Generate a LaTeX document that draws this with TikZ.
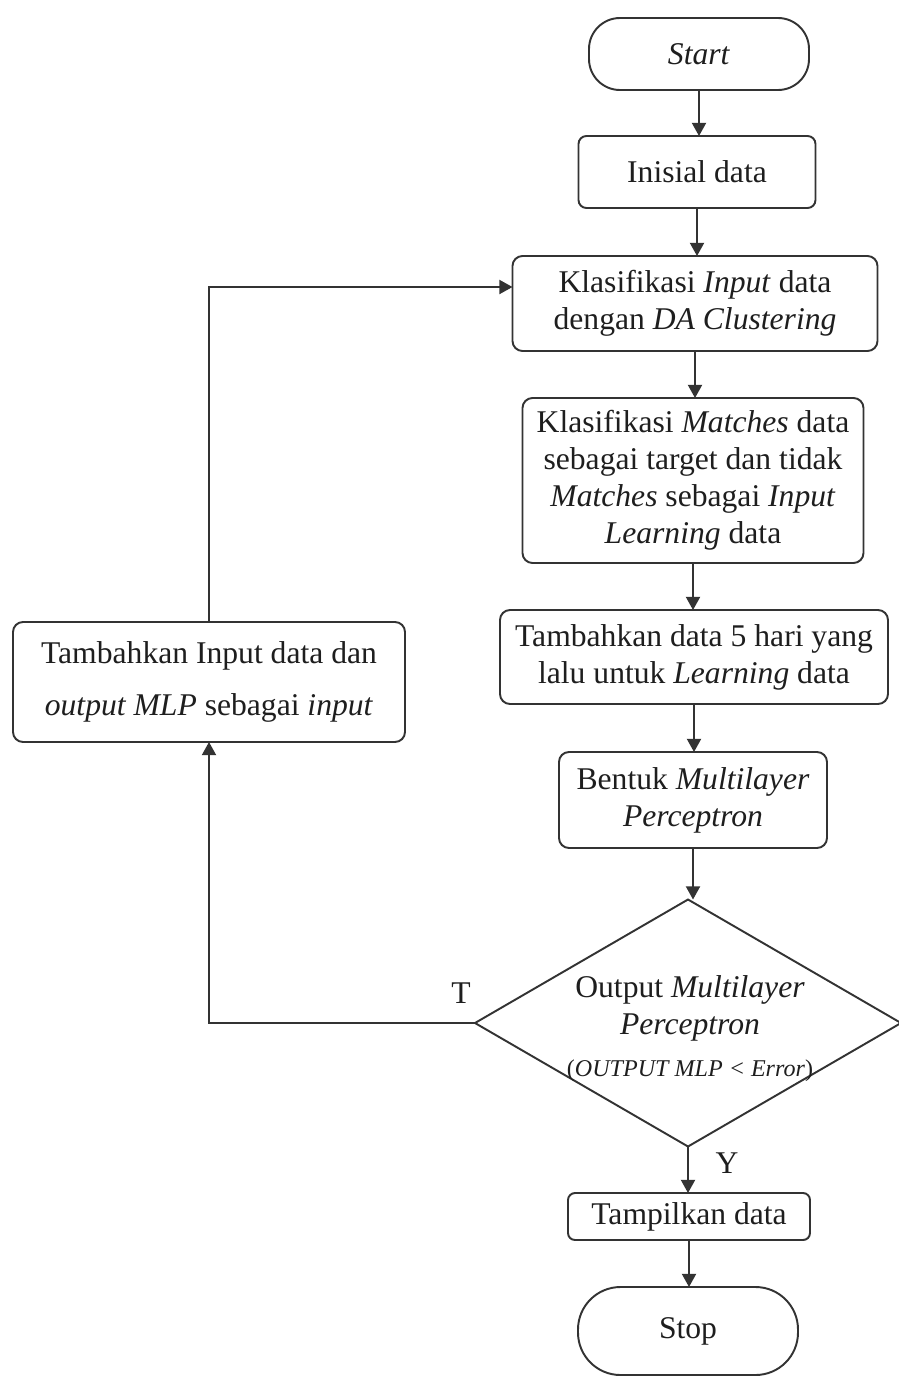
\documentclass[tikz,border=0pt]{standalone}
\usepackage{fontspec}
\setmainfont{Liberation Serif}
\usetikzlibrary{shapes.geometric,arrows.meta,calc}
\definecolor{linec}{HTML}{333333}
\definecolor{inkc}{HTML}{1e1e1e}
\tikzset{
  x=0.02cm, y=-0.02cm,
  sz/.style 2 args={minimum width=#1*0.02cm, minimum height=#2*0.02cm},
  base/.style={draw=linec, line width=1.1pt, inner sep=0pt, outer sep=0pt,
    align=center, text=inkc, font=\fontsize{18}{21}\selectfont},
  procbox/.style={base, rectangle, rounded corners=0.2cm},
  termbox/.style={base, rectangle, rounded corners=#1},
  decbox/.style={draw=linec, line width=1.1pt, diamond, inner sep=0pt, outer sep=0pt},
  lbl/.style={text=inkc, font=\fontsize{18}{21}\selectfont, inner sep=0pt},
  flow/.style={draw=linec, line width=1.1pt, -{Triangle[length=7.5pt,width=8pt]}},
}
\begin{document}
\begin{tikzpicture}
\useasboundingbox (0,0) rectangle (899,1376);

% main column
\node[termbox=0.62cm, sz={220}{72}] (start) at (699,54) {\textit{Start}};
\node[procbox, rounded corners=0.16cm, sz={237}{72}] (init) at (697,172) {Inisial data};
\node[procbox, sz={365}{95}] (klas) at (695,303.5)
  {Klasifikasi \textit{Input} data\\ dengan \textit{DA Clustering}};
\node[procbox, sz={341}{165}] (match) at (693,480.5)
  {Klasifikasi \textit{Matches} data\\ sebagai target dan tidak\\ \textit{Matches} sebagai \textit{Input}\\ \textit{Learning} data};
\node[procbox, sz={388}{94}] (addd) at (694,657)
  {Tambahkan data 5 hari yang\\ lalu untuk \textit{Learning} data};
\node[procbox, sz={268}{96}] (mlp) at (693,800)
  {Bentuk \textit{Multilayer}\\ \textit{Perceptron}};
\node[decbox, sz={426}{247}] (dec) at (688,1023) {};
\node[lbl, align=center] (dectxt) at (690,1029)
  {Output \textit{Multilayer}\\ \textit{Perceptron}\\[3pt]
   {\fontsize{13.7}{16}\selectfont (\textit{OUTPUT MLP < Error})}};
\node[procbox, rounded corners=0.14cm, sz={242}{47}] (show) at (689,1216.5) {Tampilkan data};
\node[termbox=0.85cm, sz={220}{88}] (stop) at (688,1331) {Stop};

% feedback box
\node[procbox, sz={392}{120}] (side) at (209,682)
  {Tambahkan Input data dan\\[9pt] \textit{output MLP} sebagai \textit{input}};

% branch labels
\node[lbl] (tlab) at (461,993) {T};
\node[lbl] (ylab) at (727,1163) {Y};

% connectors
\draw[flow] (start.south) -- (start.south |- init.north);
\draw[flow] (init.south) -- (init.south |- klas.north);
\draw[flow] (klas.south) -- (klas.south |- match.north);
\draw[flow] (match.south) -- (match.south |- addd.north);
\draw[flow] (addd.south) -- (addd.south |- mlp.north);
\draw[flow] (mlp.south) -- (mlp.south |- dec.north);
\draw[flow] (dec.south) -- (dec.south |- show.north);
\draw[flow] (show.south) -- (show.south |- stop.north);
\draw[flow] (dec.west) -| (side.south);
\draw[flow] (side.north) |- ([yshift=0.33cm]klas.west);
\end{tikzpicture}
\end{document}
